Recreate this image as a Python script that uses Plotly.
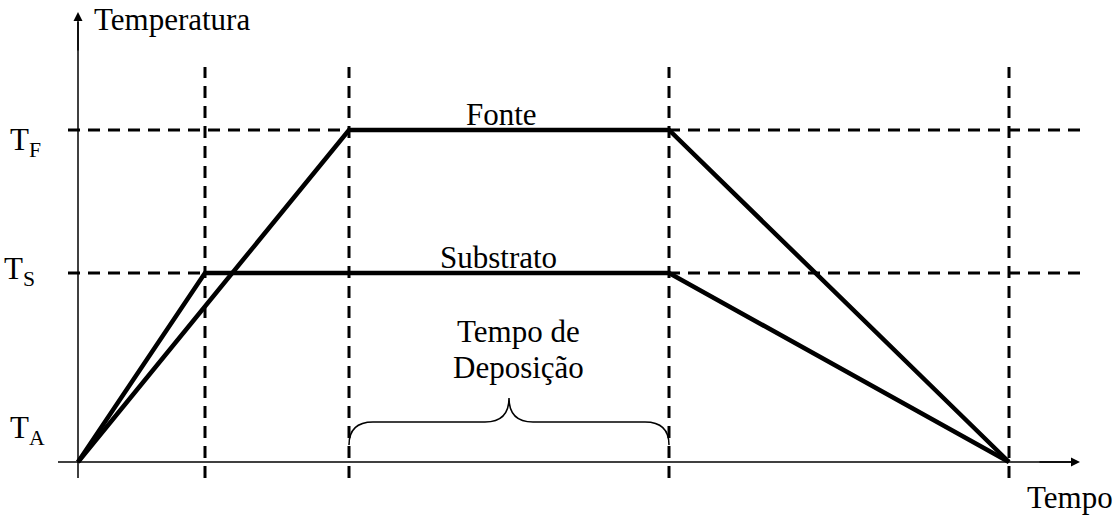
import plotly.graph_objects as go

# time marks (arbitrary units) and temperature levels
times = [0, 12.7, 27.1, 59.1, 93.1]
T_A, T_S, T_F = 0, 18.9, 33.2
temp_labels = ['T<sub>A</sub>', 'T<sub>S</sub>', 'T<sub>F</sub>']

# heating / holding / cooling profiles
fonte_t = [times[0], times[2], times[3], times[4]]
fonte_T = [T_A, T_F, T_F, T_A]
subst_t = [times[0], times[1], times[3], times[4]]
subst_T = [T_A, T_S, T_S, T_A]

FONT = 'Liberation Serif, Times New Roman, serif'
x_range = [-7.8, 104.2]
y_range = [-5.6, 46.2]

fig = go.Figure()

# dashed guides
dash = dict(color='black', width=3, dash='12px,8px')
for t in times[1:]:
    fig.add_shape(type='line', x0=t, x1=t, y0=-1.6, y1=39.5, line=dash, layer='below')
for lvl in (T_S, T_F):
    fig.add_shape(type='line', x0=-1.0, x1=100.2, y0=lvl, y1=lvl, line=dash, layer='below')

# axes
fig.add_shape(type='line', x0=0, x1=0, y0=-1.6, y1=44.0, line=dict(color='black', width=1.5))
fig.add_shape(type='line', x0=-2.0, x1=99.5, y0=0, y1=0, line=dict(color='black', width=1.5))
fig.add_annotation(x=0, y=45.0, ax=0, ay=41.0, axref='x', ayref='y', xref='x', yref='y',
                   text='', showarrow=True, arrowhead=2, arrowsize=1.2, arrowwidth=1.5,
                   arrowcolor='black')
fig.add_annotation(x=100.2, y=0, ax=96.0, ay=0, axref='x', ayref='y', xref='x', yref='y',
                   text='', showarrow=True, arrowhead=2, arrowsize=1.2, arrowwidth=1.5,
                   arrowcolor='black')

# profiles
fig.add_trace(go.Scatter(x=fonte_t, y=fonte_T, mode='lines', name='Fonte',
                         line=dict(color='black', width=4.5)))
fig.add_trace(go.Scatter(x=subst_t, y=subst_T, mode='lines', name='Substrato',
                         line=dict(color='black', width=4.5)))

# brace over deposition time
x0, x1 = times[2], times[3]
xm = (x0 + x1) / 2
yb, yl, yt = 1.7, 4.0, 6.4
brace = (f'M {x0},{yb} Q {x0},{yl} {x0 + 2.4},{yl} L {xm - 2.4},{yl} '
         f'Q {xm},{yl} {xm},{yt} Q {xm},{yl} {xm + 2.4},{yl} '
         f'L {x1 - 2.4},{yl} Q {x1},{yl} {x1},{yb}')
fig.add_shape(type='path', path=brace, line=dict(color='black', width=1.5))

# texts
def label(x, y, text, xanchor='center', size=31):
    fig.add_annotation(x=x, y=y, text=text, showarrow=False, xref='x', yref='y',
                       xanchor=xanchor, yanchor='middle',
                       font=dict(family=FONT, size=size, color='black'))

label(1.4, 44.25, 'Temperatura', xanchor='left')
label(103.7, -3.55, 'Tempo', xanchor='right')
label(42.3, 34.75, 'Fonte')
label(42.0, 20.45, 'Substrato')
label(44.0, 13.05, 'Tempo de')
label(44.0, 9.45, 'Deposição')
label(-7.0, 3.2, temp_labels[0], xanchor='left')
label(-7.6, 19.1, temp_labels[1], xanchor='left')
label(-7.0, 32.0, temp_labels[2], xanchor='left')

fig.update_layout(
    width=1120, height=518,
    margin=dict(l=0, r=0, t=0, b=0),
    paper_bgcolor='white', plot_bgcolor='white',
    showlegend=False,
    xaxis=dict(range=x_range, visible=False, fixedrange=True),
    yaxis=dict(range=y_range, visible=False, fixedrange=True),
)

# drop the default page margin so the figure sits at the window corner
fig.write_html('out.html', config={'displayModeBar': False},
               post_script="document.body.style.margin='0px';")
